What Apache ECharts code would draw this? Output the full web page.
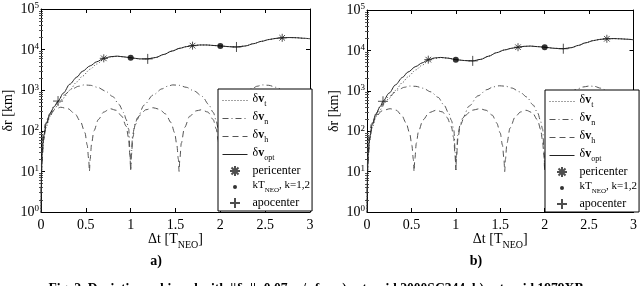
<!DOCTYPE html>
<html><head><meta charset="utf-8">
<script src="https://cdn.jsdelivr.net/npm/echarts@6/dist/echarts.min.js"></script>
<style>html,body{margin:0;padding:0;background:#fff}#c{width:640px;height:286px}</style>
</head><body><div id="c"></div>
<script>
// ---------- data ----------
const xTicks = [0, 0.5, 1, 1.5, 2, 2.5, 3];
const yTicks = [1, 10, 100, 1000, 10000, 100000];
const yMinorTicks = [2,3,4,5,6,7,8,9,20,30,40,50,60,70,80,90,200,300,400,500,600,700,800,900,
  2000,3000,4000,5000,6000,7000,8000,9000,20000,30000,40000,50000,60000,70000,80000,90000];

// plot a) asteroid 2000SC344
const optA = [[0,1],[0.003,4],[0.007,12],[0.014,32],[0.03,75],[0.058,150],[0.1,270],[0.15,400],[0.19,540],
  [0.25,850],[0.32,1400],[0.4,2100],[0.46,2900],[0.55,4000],[0.62,5000],[0.7,6100],[0.78,6700],[0.85,6900],
  [0.93,6600],[1.0,6300],[1.1,5900],[1.19,5900],[1.28,6400],[1.37,7600],[1.46,9200],[1.55,10800],[1.62,11800],
  [1.69,12500],[1.77,13000],[1.85,13000],[1.93,12600],[2.0,12300],[2.1,11800],[2.18,11600],[2.28,12300],
  [2.37,14000],[2.46,16000],[2.55,17800],[2.62,18900],[2.69,19500],[2.77,19800],[2.85,19600],[2.93,19000],[3.0,18500]];
const dvtA = [[0,1],[0.003,3],[0.007,10],[0.014,26],[0.03,62],[0.058,125],[0.1,225],[0.15,340],[0.19,450],
  [0.25,640],[0.32,1000],[0.4,1600],[0.46,2200],[0.55,3300],[0.62,4400],[0.7,5700],[0.78,6600],[0.85,6850],
  [0.93,6600],[1.0,6300],[1.1,5900],[1.19,5900],[1.28,6400],[1.37,7600],[1.46,9200],[1.55,10800],[1.62,11800],
  [1.69,12500],[1.77,13000],[1.85,13000],[1.93,12600],[2.0,12300],[2.1,11800],[2.18,11600],[2.28,12300],
  [2.37,14000],[2.46,16000],[2.55,17800],[2.62,18900],[2.69,19500],[2.77,19800],[2.85,19600],[2.93,19000],[3.0,18500]];
const dvnA = [[0.002,3],[0.007,25],[0.022,80],[0.05,150],[0.077,205],[0.15,420],[0.25,750],[0.35,1080],[0.42,1250],
  [0.48,1350],[0.55,1320],[0.63,1180],[0.72,950],[0.8,700],[0.868,450],[0.923,280],[0.95,190],[0.978,110],[0.993,30],[1.0,11],
  [1.007,25],[1.022,80],[1.05,150],[1.077,210],[1.15,430],[1.25,760],[1.35,1080],[1.41,1250],[1.47,1350],[1.54,1320],
  [1.62,1180],[1.71,950],[1.8,700],[1.868,450],[1.923,280],[1.95,190],[1.978,110],[1.993,30],[2.0,11],
  [2.007,25],[2.022,80],[2.05,150],[2.077,210],[2.15,430],[2.25,760],[2.35,1080],[2.41,1250],[2.47,1350],[2.54,1320],
  [2.62,1180],[2.71,950],[2.8,700],[2.868,450],[2.923,280],[2.95,190],[2.978,110],[2.993,30],[3.0,11]];
const dvhA = [[0.003,3],[0.01,15],[0.03,60],[0.06,140],[0.1,240],[0.15,330],[0.22,380],[0.3,350],[0.38,260],[0.44,170],
  [0.49,90],[0.515,45],[0.532,20],[0.54,10],[0.548,20],[0.565,50],[0.59,100],[0.64,190],[0.7,290],[0.77,350],[0.84,320],
  [0.9,230],[0.95,130],[0.975,70],[0.992,25],[1.0,11],[1.008,25],[1.025,70],[1.05,140],[1.1,240],[1.17,330],[1.25,370],
  [1.32,340],[1.39,260],[1.45,160],[1.49,90],[1.515,45],[1.532,20],[1.54,10],[1.548,20],[1.565,50],[1.6,120],[1.66,230],
  [1.73,310],[1.79,330],[1.86,290],[1.92,190],[1.955,110],[1.975,60],[1.992,25],[2.0,11],[2.008,25],[2.025,70],[2.05,140],
  [2.1,240],[2.17,330],[2.25,370],[2.32,340],[2.39,260],[2.45,160],[2.49,90],[2.515,45],[2.532,20],[2.54,10],[2.548,20],
  [2.565,50],[2.6,120],[2.66,230],[2.73,310],[2.79,330],[2.86,290],[2.92,190],[2.955,110],[2.975,60],[2.992,25],[3.0,11]];
const periA = [[0.7,6100],[1.69,12500],[2.69,19500]];
const kTA = [[1.0,6300],[2.0,12300]];
const apoA = [[0.19,540],[1.19,5900],[2.18,11600]];

// plot b) asteroid 1979XB
const optB = [[0,1],[0.003,4],[0.007,12],[0.014,30],[0.03,70],[0.058,145],[0.1,270],[0.15,410],[0.18,550],
  [0.25,880],[0.32,1400],[0.4,2150],[0.46,2900],[0.55,4000],[0.62,4900],[0.69,5900],[0.76,6500],[0.83,6700],
  [0.92,6400],[1.0,5900],[1.1,5600],[1.19,5500],[1.28,6000],[1.37,7200],[1.46,8800],[1.55,10300],[1.63,11300],
  [1.70,12000],[1.77,12600],[1.84,12800],[1.92,12400],[2.0,12000],[2.1,11300],[2.21,11000],[2.3,11700],
  [2.38,13300],[2.46,15400],[2.55,17500],[2.62,18700],[2.70,19400],[2.78,19600],[2.86,19300],[2.93,18900],[3.0,18300]];
const dvtB = [[0,1],[0.003,3],[0.007,10],[0.014,25],[0.03,60],[0.058,120],[0.1,225],[0.15,340],[0.18,450],
  [0.25,650],[0.32,1020],[0.4,1600],[0.46,2200],[0.55,3300],[0.62,4300],[0.69,5500],[0.76,6300],[0.83,6650],
  [0.92,6400],[1.0,5900],[1.1,5600],[1.19,5500],[1.28,6000],[1.37,7200],[1.46,8800],[1.55,10300],[1.63,11300],
  [1.70,12000],[1.77,12600],[1.84,12800],[1.92,12400],[2.0,12000],[2.1,11300],[2.21,11000],[2.3,11700],
  [2.38,13300],[2.46,15400],[2.55,17500],[2.62,18700],[2.70,19400],[2.78,19600],[2.86,19300],[2.93,18900],[3.0,18300]];
const dvnB = [[0.002,3],[0.007,25],[0.022,80],[0.05,150],[0.077,200],[0.15,410],[0.25,730],[0.35,1050],[0.42,1220],
  [0.48,1310],[0.55,1290],[0.63,1160],[0.72,940],[0.8,690],[0.868,440],[0.923,270],[0.95,185],[0.978,105],[0.993,30],[1.0,11],
  [1.007,25],[1.022,80],[1.05,150],[1.077,210],[1.15,420],[1.25,750],[1.35,1070],[1.42,1250],[1.49,1330],[1.56,1300],
  [1.63,1170],[1.72,940],[1.8,700],[1.868,450],[1.923,280],[1.95,190],[1.978,110],[1.993,30],[2.0,11],
  [2.007,25],[2.022,80],[2.05,150],[2.077,205],[2.15,410],[2.25,740],[2.35,1060],[2.43,1240],[2.5,1310],[2.56,1290],
  [2.63,1160],[2.72,940],[2.8,690],[2.868,440],[2.923,270],[2.95,185],[2.978,105],[2.993,30],[3.0,11]];
const dvhB = [[0.003,3],[0.01,15],[0.03,60],[0.06,140],[0.1,230],[0.17,320],[0.26,360],[0.33,330],[0.39,250],[0.44,160],
  [0.48,90],[0.505,45],[0.522,20],[0.53,10],[0.538,20],[0.555,50],[0.58,100],[0.63,190],[0.7,290],[0.78,330],[0.85,300],
  [0.9,220],[0.95,130],[0.975,70],[0.992,25],[1.0,11],[1.008,25],[1.025,70],[1.05,140],[1.1,240],[1.18,330],[1.27,360],
  [1.34,330],[1.41,250],[1.46,160],[1.5,90],[1.525,45],[1.542,20],[1.55,10],[1.558,20],[1.575,50],[1.61,120],[1.67,230],
  [1.73,300],[1.79,330],[1.86,290],[1.92,190],[1.955,110],[1.975,60],[1.992,25],[2.0,11],[2.008,25],[2.025,70],[2.05,140],
  [2.1,240],[2.17,320],[2.26,360],[2.33,330],[2.39,250],[2.44,160],[2.48,90],[2.505,45],[2.522,20],[2.53,10],[2.538,20],
  [2.555,50],[2.59,120],[2.65,230],[2.72,300],[2.79,330],[2.86,290],[2.92,190],[2.955,110],[2.975,60],[2.992,25],[3.0,11]];
const periB = [[0.69,5900],[1.70,12000],[2.70,19400]];
const kTB = [[1.0,5900],[2.0,12000]];
const apoB = [[0.18,550],[1.19,5500],[2.21,11000]];

// ---------- chart ----------
const FF = 'Liberation Serif';
const BLACK = '#000';
const grids = [
  {left: 38, top: 9, width: 272, height: 203},
  {left: 367, top: 10, width: 268, height: 202}
];
const supRich = {
  b: {fontSize: 14, fontFamily: FF, color: BLACK, verticalAlign: 'bottom'},
  s: {fontSize: 9, fontFamily: FF, color: BLACK, verticalAlign: 'bottom', padding: [0, 0, 6, 0]}
};
const nameRich = {
  m: {fontSize: 14, fontFamily: FF, color: BLACK, verticalAlign: 'bottom', padding: [0, 0, 4, 0]},
  s: {fontSize: 10, fontFamily: FF, color: BLACK, verticalAlign: 'bottom'}
};
const xAxes = [], yAxes = [];
grids.forEach((g, gi) => {
  xAxes.push({
    gridIndex: gi, type: 'value', min: xTicks[0], max: xTicks[xTicks.length - 1], interval: 0.5, position: 'bottom',
    axisLine: {show: true, onZero: false, lineStyle: {color: BLACK, width: 1}},
    axisTick: {show: true, inside: true, length: 4, lineStyle: {color: BLACK}},
    axisLabel: {show: true, margin: 6, color: BLACK, fontFamily: FF, fontSize: 14, formatter: v => String(v)},
    splitLine: {show: false},
    name: '{m|Δt [T}{s|NEO}{m|]}', nameLocation: 'middle', nameGap: 20, nameMoveOverlap: false,
    nameTextStyle: {rich: nameRich}
  });
  xAxes.push({
    gridIndex: gi, type: 'value', min: xTicks[0], max: xTicks[xTicks.length - 1], interval: 0.5, position: 'top',
    axisLine: {show: true, onZero: false, lineStyle: {color: BLACK, width: 1}},
    axisTick: {show: true, inside: true, length: 4, lineStyle: {color: BLACK}},
    axisLabel: {show: false}, splitLine: {show: false}
  });
  const base = {gridIndex: gi, type: 'log', logBase: 10, min: yTicks[0], max: yTicks[yTicks.length - 1], splitLine: {show: false}};
  yAxes.push(Object.assign({}, base, {
    position: 'left',
    axisLine: {show: true, onZero: false, lineStyle: {color: BLACK, width: 1}},
    axisTick: {show: true, inside: true, length: 4, customValues: yTicks, lineStyle: {color: BLACK}},
    axisLabel: {show: true, margin: 2, customValues: yTicks,
      formatter: v => '{b|10}{s|' + Math.round(Math.log10(v)) + '}', rich: supRich},
    name: 'δr [km]', nameLocation: 'middle', nameGap: 26, nameMoveOverlap: false,
    nameTextStyle: {fontFamily: FF, fontSize: 14, color: BLACK}
  }));
  yAxes.push(Object.assign({}, base, {
    position: 'left', axisLine: {show: false},
    axisTick: {show: true, inside: true, length: 2, customValues: yMinorTicks, lineStyle: {color: '#555'}},
    axisLabel: {show: false}
  }));
  yAxes.push(Object.assign({}, base, {
    position: 'right',
    axisLine: {show: true, onZero: false, lineStyle: {color: BLACK, width: 1}},
    axisTick: {show: true, inside: true, length: 4, customValues: yTicks, lineStyle: {color: BLACK}},
    axisLabel: {show: false}
  }));
  yAxes.push(Object.assign({}, base, {
    position: 'right', axisLine: {show: false},
    axisTick: {show: true, inside: true, length: 2, customValues: yMinorTicks, lineStyle: {color: '#555'}},
    axisLabel: {show: false}
  }));
});

const ASTER = 'path://M0,-1L0,1M-1,0L1,0M-0.7,-0.7L0.7,0.7M-0.7,0.7L0.7,-0.7';
const PLUS = 'path://M0,-1L0,1M-1,0L1,0';
const DOT_ICON = 'path://M0,0M10,10M3,5A2,2 0 1 0 7,5A2,2 0 1 0 3,5Z';
const CLEAR = 'rgba(0,0,0,0)';

function lineS(name, data, gi, lineStyle, z) {
  return {name, type: 'line', xAxisIndex: gi * 2, yAxisIndex: gi * 4, data, symbol: 'none', showSymbol: false,
    smooth: 0.3, smoothMonotone: 'x', silent: true, animation: false, z: z, lineStyle,
    itemStyle: {color: CLEAR, borderColor: CLEAR, borderWidth: 0}};
}
function scatS(name, data, gi, symbol, size, itemStyle) {
  return {name, type: 'scatter', xAxisIndex: gi * 2, yAxisIndex: gi * 4, data, symbol, symbolSize: size,
    silent: true, animation: false, z: 6, itemStyle};
}
const stDot = {color: '#444', width: 1, type: [1, 2]};
const stDashDot = {color: '#555', width: 1, type: [6, 3, 1, 3]};
const stDash = {color: '#555', width: 1, type: [6, 4]};
const stSolid = {color: '#222', width: 1, type: 'solid'};
const starStyle = {color: CLEAR, borderColor: '#222', borderWidth: 1};
const dotStyle = {color: '#000'};

const sets = [
  {t: dvtA, n: dvnA, h: dvhA, o: optA, p: periA, k: kTA, a: apoA},
  {t: dvtB, n: dvnB, h: dvhB, o: optB, p: periB, k: kTB, a: apoB}
];
const series = [];
sets.forEach((s, gi) => {
  series.push(lineS('dvt', s.t, gi, stDot, 3));
  series.push(lineS('dvn', s.n, gi, stDashDot, 3));
  series.push(lineS('dvh', s.h, gi, stDash, 3));
  series.push(lineS('dvopt', s.o, gi, stSolid, 4));
  series.push(scatS('peri', s.p, gi, ASTER, 8, starStyle));
  series.push(scatS('kT', s.k, gi, 'circle', 6, dotStyle));
  series.push(scatS('apo', s.a, gi, PLUS, 10, starStyle));
});

const legendRich = {
  g: {fontSize: 12, fontFamily: FF, color: BLACK, verticalAlign: 'bottom', padding: [0, 0, 3, 0]},
  v: {fontSize: 12, fontFamily: FF, fontWeight: 'bold', color: BLACK, verticalAlign: 'bottom', padding: [0, 0, 3, 0]},
  s: {fontSize: 8, fontFamily: FF, color: BLACK, verticalAlign: 'bottom'},
  k: {fontSize: 11, fontFamily: FF, color: BLACK, verticalAlign: 'bottom', padding: [0, 0, 3, 0]},
  ks: {fontSize: 7, fontFamily: FF, color: BLACK, verticalAlign: 'bottom'},
  p: {fontSize: 12, fontFamily: FF, color: BLACK}
};
const legendText = {
  dvt: '{g|δ}{v|v}{s|t}', dvn: '{g|δ}{v|v}{s|n}', dvh: '{g|δ}{v|v}{s|h}', dvopt: '{g|δ}{v|v}{s|opt}',
  peri: '{p|pericenter}', kT: '{k|kT}{ks|NEO}{k|, k=1,2}', apo: '{p|apocenter}'
};
const legendData = [{name: 'dvt'}, {name: 'dvn'}, {name: 'dvh'}, {name: 'dvopt'},
  {name: 'peri'}, {name: 'kT', icon: DOT_ICON}, {name: 'apo'}];
function legendAt(left, top) {
  return {
    left, top, orient: 'vertical', padding: [4, 2, 2, 4], itemGap: 3, itemWidth: 25, itemHeight: 10,
    borderColor: BLACK, borderWidth: 1, borderRadius: 0, backgroundColor: '#fff', selectedMode: false,
    data: legendData, formatter: n => legendText[n],
    lineStyle: {width: 1},
    textStyle: {fontFamily: FF, fontSize: 12, color: BLACK, rich: legendRich}, z: 10
  };
}

const option = {
  backgroundColor: '#fff',
  animation: false,
  grid: grids.map(g => Object.assign({containLabel: false}, g)),
  xAxis: xAxes,
  yAxis: yAxes,
  legend: [legendAt(218, 89), legendAt(545, 90)],
  series,
  graphic: [
    {type: 'text', x: 156, y: 261, style: {text: 'a)', font: 'bold 14px "Liberation Serif"', fill: BLACK, textAlign: 'center', textVerticalAlign: 'middle'}},
    {type: 'text', x: 476, y: 261, style: {text: 'b)', font: 'bold 14px "Liberation Serif"', fill: BLACK, textAlign: 'center', textVerticalAlign: 'middle'}},
    {type: 'text', x: 316, y: 282, style: {text: 'Fig. 2. Deviation achieved with ||δv||=0.07 m/s for a) asteroid 2000SC344, b) asteroid 1979XB',
      font: 'bold 13.6px "Liberation Serif"', fill: BLACK, textAlign: 'center', textVerticalAlign: 'top'}}
  ]
};
const chart = echarts.init(document.getElementById('c'));
chart.setOption(option);
</script>
</body></html>
